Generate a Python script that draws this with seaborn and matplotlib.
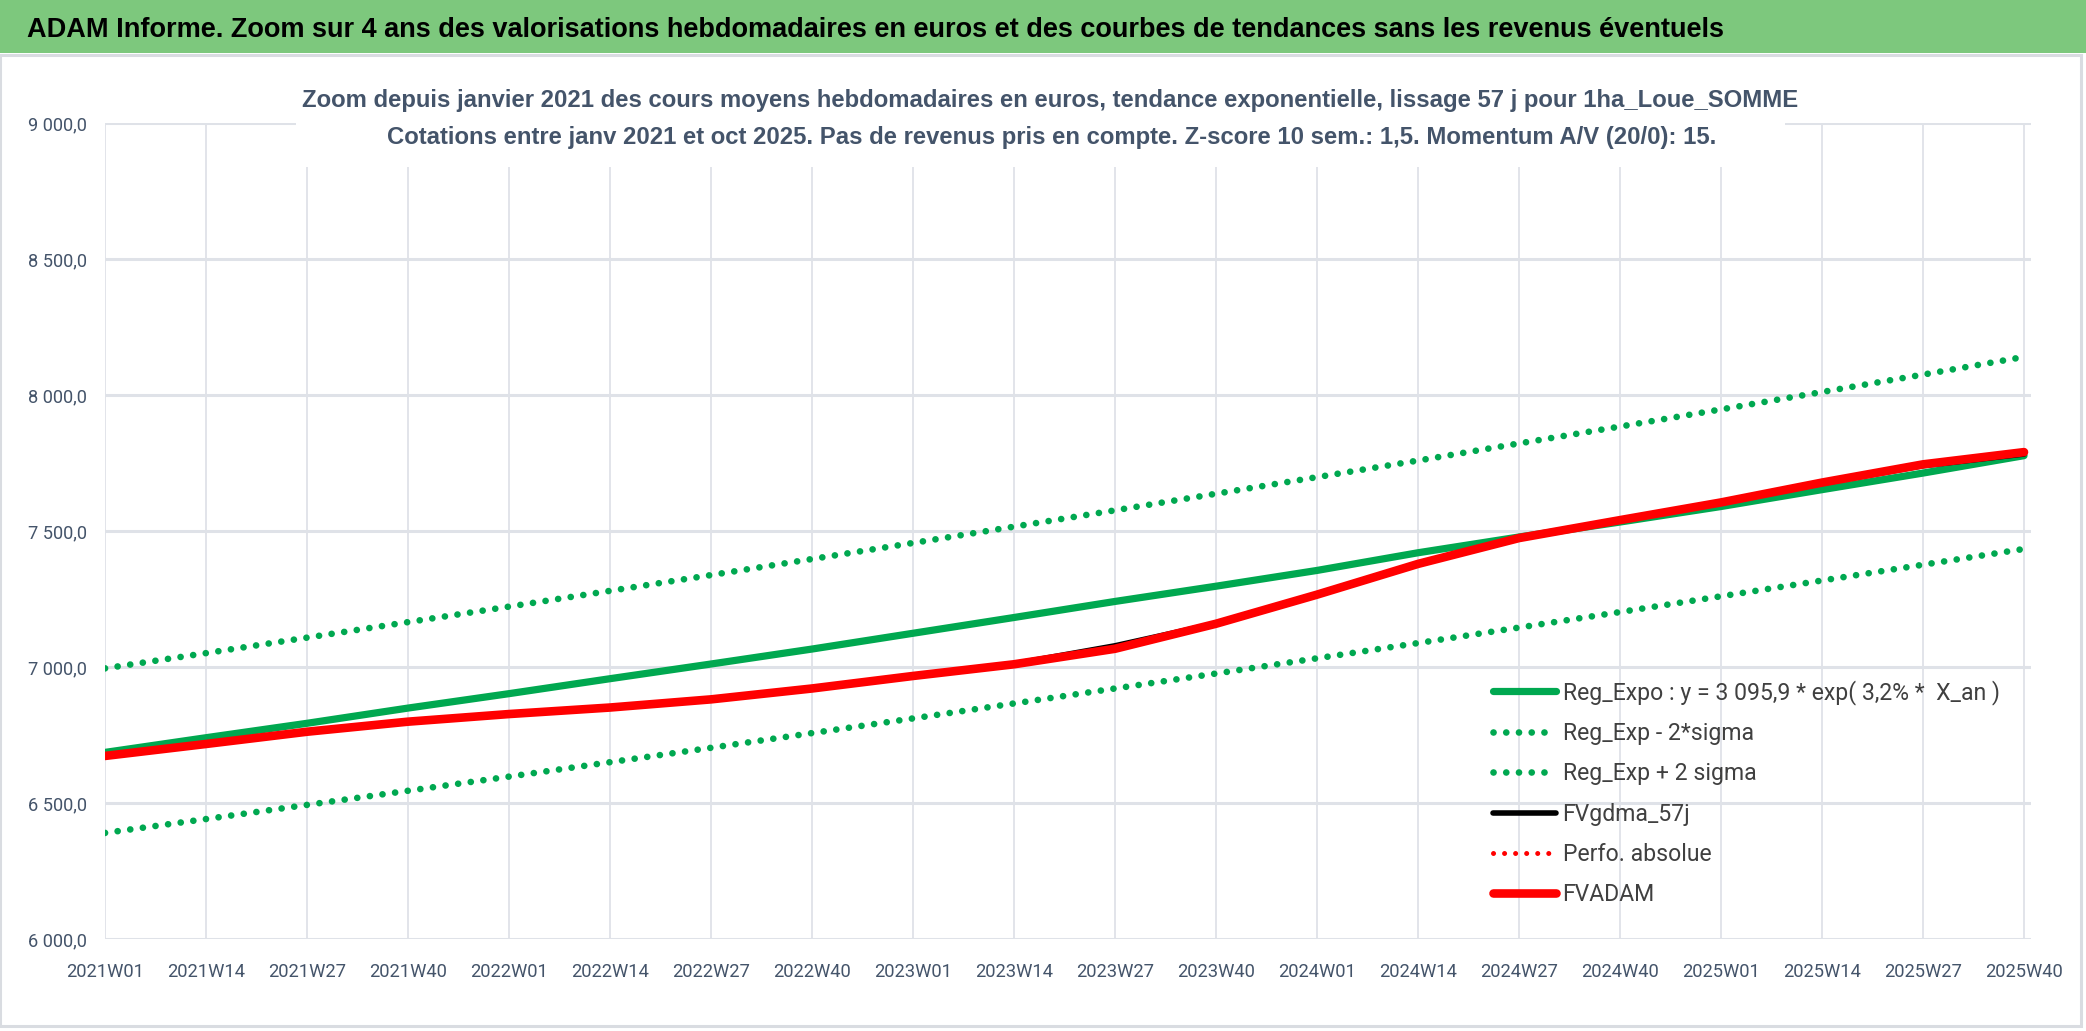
"""
Zoom sur 4 ans des valorisations hebdomadaires (1ha_Loue_SOMME)
Courbe FVADAM, lissage 57 j et regression exponentielle +/- 2 sigma.
"""

import matplotlib
matplotlib.use("Agg")
import matplotlib.pyplot as plt
from matplotlib.patches import Rectangle
from matplotlib.ticker import FuncFormatter
import seaborn as sns


# Category axis: one entry per week, 2021W01 .. 2025W40
weeks = [f"{y}W{w:02d}" for y in range(2021, 2026) for w in range(1, 53)]
weeks = weeks[:weeks.index("2025W40") + 1]

# Values read at the labelled weeks
tick_weeks = [
    "2021W01", "2021W14", "2021W27", "2021W40",
    "2022W01", "2022W14", "2022W27", "2022W40",
    "2023W01", "2023W14", "2023W27", "2023W40",
    "2024W01", "2024W14", "2024W27", "2024W40",
    "2025W01", "2025W14", "2025W27", "2025W40",
]
reg_expo = [6686, 6740, 6793, 6849, 6902, 6957, 7011, 7066, 7124, 7182,
            7241, 7297, 7355, 7420, 7478, 7533, 7590, 7652, 7713, 7777]
reg_minus_2s = [6390, 6441, 6493, 6545, 6597, 6650, 6703, 6757, 6811, 6866,
                6921, 6976, 7032, 7088, 7145, 7202, 7260, 7318, 7376, 7434]
reg_plus_2s = [6995, 7051, 7108, 7165, 7222, 7280, 7338, 7397, 7456, 7516,
               7576, 7637, 7698, 7759, 7822, 7884, 7947, 8011, 8075, 8140]
fvgdma_57j = [6673, 6717, 6762, 6799, 6827, 6851, 6881, 6921, 6967, 7012,
              7078, 7160, 7266, 7378, 7473, 7539, 7603, 7675, 7740, 7783]
perfo_absolue = [6673, 6717, 6762, 6799, 6827, 6851, 6881, 6921, 6967, 7010,
                 7067, 7159, 7266, 7379, 7474, 7540, 7605, 7678, 7745, 7790]
fvadam = [6673, 6717, 6762, 6799, 6827, 6851, 6881, 6921, 6967, 7010,
          7067, 7159, 7266, 7379, 7474, 7540, 7605, 7678, 7745, 7790]

y_ticks = [6000, 6500, 7000, 7500, 8000, 8500, 9000]

TITLE = ("ADAM Informe. Zoom sur 4 ans des valorisations hebdomadaires en euros "
         "et des courbes de tendances sans les revenus éventuels")
SUB1 = ("Zoom depuis janvier 2021 des cours moyens hebdomadaires en euros, "
        "tendance exponentielle, lissage 57 j pour 1ha_Loue_SOMME")
SUB2 = ("Cotations entre janv 2021 et oct 2025. Pas de revenus pris en compte. "
        "Z-score 10 sem.: 1,5. Momentum A/V (20/0): 15.")
LEG_LABELS = ["Reg_Expo : y = 3 095,9 * exp( 3,2% *  X_an )", "Reg_Exp - 2*sigma",
              "Reg_Exp + 2 sigma", "FVgdma_57j", "Perfo. absolue", "FVADAM"]

GREEN = "#00A850"
RED = "#FF0000"
GRID = "#DFE2E8"
TXT = "#44546A"
NARROW = ["Roboto", "DejaVu Sans"]
BOLD = ["Liberation Sans", "DejaVu Sans"]


def fr_fmt(v, _pos):
    return f"{v:,.1f}".replace(",", " ").replace(".", ",")


def fit_size(fig, txt, target_px, **kw):
    # font size (pt) that makes txt about target_px wide
    t = fig.text(0, 0, txt, fontsize=10, **kw)
    w = t.get_window_extent(fig.canvas.get_renderer()).width
    t.remove()
    return 10 * target_px / w


def main():
    sns.set_theme(style="white")
    plt.rcParams["font.family"] = NARROW

    W, H = 2086, 1031
    fig = plt.figure(figsize=(W / 100, H / 100), dpi=100, facecolor="white")
    ax = fig.add_axes([105 / W, 1 - 939 / H, (2031 - 105) / W, (939 - 123) / H])

    xpos = [weeks.index(w) for w in tick_weeks]
    dots = (0, (0.01, 1.9))

    # Bands first, then the regression, then the smoothed curves on top
    sns.lineplot(x=xpos, y=reg_expo, ax=ax, color=GREEN, lw=5.2,
                 solid_capstyle="round", label=LEG_LABELS[0], zorder=3)
    sns.lineplot(x=xpos, y=reg_minus_2s, ax=ax, color=GREEN, lw=4.8,
                 ls=dots, dash_capstyle="round", label=LEG_LABELS[1], zorder=2)
    sns.lineplot(x=xpos, y=reg_plus_2s, ax=ax, color=GREEN, lw=4.8,
                 ls=dots, dash_capstyle="round", label=LEG_LABELS[2], zorder=2)
    sns.lineplot(x=xpos, y=fvgdma_57j, ax=ax, color="black", lw=4.0,
                 label=LEG_LABELS[3], zorder=4)
    sns.lineplot(x=xpos, y=perfo_absolue, ax=ax, color=RED, lw=3.6,
                 ls=(0, (0.01, 2.2)), dash_capstyle="round", label=LEG_LABELS[4], zorder=4)
    sns.lineplot(x=xpos, y=fvadam, ax=ax, color=RED, lw=6.2,
                 solid_capstyle="round", label=LEG_LABELS[5], zorder=5)

    ax.set_xlim(0, len(weeks) - 1 + 0.9)
    ax.set_ylim(y_ticks[0], y_ticks[-1])
    ax.set_xticks(xpos)
    ax.set_xticklabels(tick_weeks)
    ax.set_yticks(y_ticks)
    ax.yaxis.set_major_formatter(FuncFormatter(fr_fmt))
    ax.set_xlabel("")
    ax.set_ylabel("")

    xsize = fit_size(fig, "2021W01", 78)
    ysize = fit_size(fig, "9 000,0", 59)

    ax.grid(axis="y", color=GRID, lw=2.2)
    ax.grid(axis="x", color=GRID, lw=1.3)
    ax.set_axisbelow(True)
    for s in ax.spines.values():
        s.set_visible(False)
    ax.tick_params(axis="x", length=7, width=1.3, color=GRID, pad=10,
                   labelsize=xsize, labelcolor=TXT)
    ax.tick_params(axis="y", length=0, pad=13, labelsize=ysize, labelcolor=TXT)
    ax.set_facecolor("none")

    lsize = fit_size(fig, LEG_LABELS[0], 437)
    leg = ax.legend(loc="center left", bbox_to_anchor=(1493 / W, 1 - 793 / H),
                    bbox_transform=fig.transFigure, frameon=False, fontsize=lsize,
                    handlelength=2.75, handletextpad=0.28, labelspacing=0.75,
                    borderpad=0, borderaxespad=0)
    for t in leg.get_texts():
        t.set_color("#404040")

    # Green header band with the main title
    fig.add_artist(Rectangle((0, 1 - 53 / H), 1, 53 / H, transform=fig.transFigure,
                             facecolor="#7DC87D", edgecolor="none", zorder=1))
    tsize = fit_size(fig, TITLE, 1705, fontweight="bold", family=BOLD)
    fig.text(27 / W, 1 - 30 / H, TITLE, ha="left", va="center", fontsize=tsize,
             fontweight="bold", color="black", family=BOLD, zorder=10)

    # Chart frame below the header
    fig.add_artist(Rectangle((0, 1 - 1026 / H), 2081 / W, (1026 - 55) / H,
                             transform=fig.transFigure, facecolor="none",
                             edgecolor="#D9DCE1", lw=2.2, zorder=1))

    # White box behind the subtitle, hiding the top of the grid
    fig.add_artist(Rectangle((296 / W, 1 - 167 / H), (1785 - 296) / W, (167 - 70) / H,
                             transform=fig.transFigure, facecolor="white",
                             edgecolor="none", zorder=6))
    ssize = fit_size(fig, SUB1, 1495, fontweight="bold", family=BOLD)
    fig.text(1050 / W, 1 - 100 / H, SUB1, ha="center", va="center", fontsize=ssize,
             fontweight="bold", color=TXT, family=BOLD, zorder=10)
    fig.text(1052 / W, 1 - 137 / H, SUB2, ha="center", va="center", fontsize=ssize,
             fontweight="bold", color=TXT, family=BOLD, zorder=10)

    fig.savefig("out.png", dpi=100, facecolor="white")


if __name__ == "__main__":
    main()
